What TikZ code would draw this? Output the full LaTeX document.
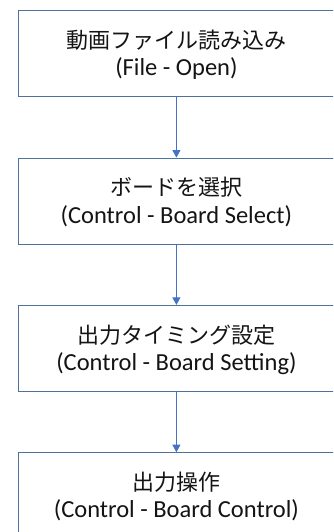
\documentclass[tikz,border=0pt]{standalone}
\usepackage{fontspec}
\setmainfont{Carlito}
\newfontfamily\jpfont{Noto Sans CJK JP}
\usetikzlibrary{arrows.meta,calc}
\definecolor{boxline}{RGB}{80,112,158}
\definecolor{arrowline}{RGB}{68,114,196}
\definecolor{txt}{RGB}{20,20,20}
\tikzset{
  stepbox/.style={draw=boxline, line width=1.1pt, fill=white, rectangle,
    minimum width=315.4pt, minimum height=86pt, inner sep=0pt, anchor=north},
  jptext/.style={font=\jpfont\fontsize{22}{26}\selectfont, text=txt, inner sep=0pt},
  entext/.style={font=\fontsize{24.5}{28}\selectfont, text=txt, inner sep=0pt, anchor=base},
  flow/.style={draw=arrowline, line width=0.8pt, -{Triangle[width=8pt,length=7.5pt]}}
}
\begin{document}
\begin{tikzpicture}[x=1pt,y=1pt]
\useasboundingbox (0,0) rectangle (333,-532);
\clip (0,0) rectangle (333,-532);
\fill[white] (0,0) rectangle (333,-532);
\node[stepbox] (b1) at (176.4,-10.3) {};
\node[stepbox] (b2) at (176.4,-157.6) {};
\node[stepbox] (b3) at (176.4,-304.9) {};
\node[stepbox] (b4) at (176.4,-452.2) {};
\foreach \b/\j/\e in {b1/動画ファイル読み込み/(File - Open),
                      b2/ボードを選択/(Control - Board Select),
                      b3/出力タイミング設定/(Control - Board Setting),
                      b4/出力操作/(Control - Board Control)} {
  \node[jptext] (\b j) at ($(\b.north)+(0,-30)$) {\j};
  \node[entext] (\b e) at ($(\b.north)+(0,-65.5)$) {\e};
}
\draw[flow] (b1.south) -- (b2.north);
\draw[flow] (b2.south) -- (b3.north);
\draw[flow] (b3.south) -- (b4.north);
\end{tikzpicture}
\end{document}
